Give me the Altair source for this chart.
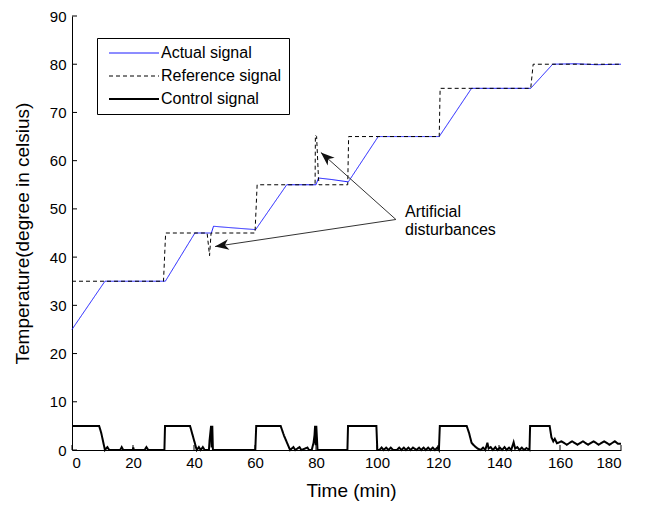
import math
import altair as alt
import pandas as pd

FONT = "Liberation Sans"
W, H = 549, 434

# ---- data ----
series_names = ["Actual signal", "Reference signal", "Control signal"]

act_t = [0, 10.8, 30.6, 40.3, 45.7, 46.4, 50, 60.2, 70.4, 80, 80.8, 85, 90.6, 100.4, 120.4, 131, 150.4, 157.6, 165, 172, 180]
act_v = [25, 35, 35, 45, 45, 46.4, 46.2, 45.7, 55, 55, 56.4, 56.1, 55.6, 65, 65, 75, 75, 80, 80.1, 79.9, 80]

ref_t = [0, 30, 30.7, 44.3, 45.1, 45.6, 60, 60.7, 79.7, 79.8, 80.2, 80.8, 81, 90.4, 90.7, 120.4, 120.7, 150.4, 151.2, 180]
ref_v = [35, 35, 45, 45, 40.3, 45, 45, 55, 55, 65.3, 65, 56.5, 55, 55, 65, 65, 75, 75, 80, 80]

ctl_t = [0, 8.9, 9.6, 10.8, 11.6, 12.2, 15.8, 16.3, 16.8, 19.9, 20.1, 20.3, 23.8, 24.4, 25,
         30.3, 30.5, 38.7, 39.8, 40.9, 41.6, 42.2, 42.9, 43.5, 44.9, 45.1, 45.6, 45.8, 46.0, 46.2,
         60.1, 60.4, 68.4, 69.5, 71.5, 72.6, 73.2, 74.6, 75.2, 77.2, 77.7, 78.6, 79.2, 79.5, 79.7, 79.9, 80.1, 80.5,
         90.3, 90.5, 99.8, 100.1,
         100.8, 101.5, 102.2, 103.0, 103.8, 104.5, 105.3, 106.5, 107.3, 108.0, 108.8, 109.5, 110.3,
         111.0, 111.8, 113.0, 113.8, 114.5, 115.3, 116.0, 116.8, 117.5, 118.3, 119.0, 119.8,
         120.3, 120.6, 129.4, 130.2, 131, 132, 133, 134,
         134.8, 135.5, 136.2, 136.6, 137.3, 138, 138.8, 139.5, 140.3, 141, 141.8, 142.5, 143.3, 144,
         144.8, 145.3, 146, 146.7, 147.5, 148.2, 149, 150,
         150.2, 156.6, 157.2, 157.8, 158.3, 159, 160.5, 162.2, 164, 165.7, 167.5, 169.2, 171, 172.7,
         174.5, 176.2, 178, 179, 180]
ctl_v = [5, 5, 3.5, 0, 0.6, 0, 0, 0.6, 0, 0, 0.5, 0, 0, 0.6, 0,
         0, 5, 5, 2.5, 0, 0.6, 0, 0.6, 0, 0, 2, 5, 0.5, 5, 0,
         0, 5, 5, 3, 0, 0.6, 0, 0.6, 0, 0.5, 0, 0, 1.5, 3, 5, 1, 5, 0,
         0, 5, 5, 0,
         0, 0.5, 0, 0.5, 0, 0.5, 0, 0, 0.5, 0, 0.5, 0, 0.5,
         0, 0.5, 0, 0.5, 0, 0.5, 0, 0.5, 0, 0.5, 0, 0.5,
         0, 5, 5, 3.5, 1.5, 0.8, 0.3, 0,
         0.5, 0, 1.5, 0.3, 0.6, 0, 0.6, 0, 0.5, 0, 0.6, 0, 0.5, 0,
         1.6, 0.3, 0.6, 0, 0.5, 0, 0.4, 0,
         5, 5, 2.6, 1.8, 2.3, 1.4, 1.8, 1.1, 1.8, 1.1, 1.8, 1.1, 1.8, 1.1,
         1.8, 1.1, 1.8, 1.3, 1.3]
series_widths = {"Actual signal": 1, "Reference signal": 1, "Control signal": 2}

x_ticks = [0, 20, 40, 60, 80, 100, 120, 140, 160, 180]
y_ticks = [0, 10, 20, 30, 40, 50, 60, 70, 80, 90]

note_lines = ["Artificial", "disturbances"]
note_t = [109.2, 109.2]
note_v = [49.4, 45.6]

arrow_start = (106.2, 47.8)
arrow_tips_t = [81.6, 46.9]
arrow_tips_v = [61.7, 42.2]

# ---- tables ----
rows = []
for name, ts, vs in [("Actual signal", act_t, act_v),
                     ("Reference signal", ref_t, ref_v),
                     ("Control signal", ctl_t, ctl_v)]:
    for i, (t, v) in enumerate(zip(ts, vs)):
        rows.append({"series": name, "t": t, "v": v, "i": i})
df = pd.DataFrame(rows)


def screen_angle(t0, v0, t1, v1):
    dx = (t1 - t0) * W / 180
    dy = -(v1 - v0) * H / 90
    return math.degrees(math.atan2(dx, -dy)) % 360


arrows = pd.DataFrame({
    "t": [arrow_start[0]] * 2, "v": [arrow_start[1]] * 2,
    "t2": arrow_tips_t, "v2": arrow_tips_v,
})
heads = pd.DataFrame({
    "t": arrow_tips_t, "v": arrow_tips_v,
    "ang": [screen_angle(arrow_start[0], arrow_start[1], t, v) for t, v in zip(arrow_tips_t, arrow_tips_v)],
})
notes = pd.DataFrame({"t": note_t, "v": note_v, "txt": note_lines})
xt = pd.DataFrame({"t": x_ticks})
yt = pd.DataFrame({"v": y_ticks})

xs = alt.Scale(domain=[0, 180], nice=False, zero=False)
ys = alt.Scale(domain=[0, 90], nice=False, zero=False)
xaxis = alt.Axis(values=x_ticks, title="Time (min)", ticks=False, grid=False,
                 labelPadding=5, titleX=279, titleY=40, titleBaseline="middle",
                 titleAnchor="start", titleAlign="center")
yaxis = alt.Axis(values=y_ticks, title="Temperature(degree in celsius)", ticks=False, grid=False,
                 labelPadding=6, titleX=-50, titleY=217, titleAngle=270,
                 titleBaseline="middle", titleAlign="center")
X = alt.X("t:Q", scale=xs, axis=xaxis)
Y = alt.Y("v:Q", scale=ys, axis=yaxis)

leg = alt.Legend(
    title=None, orient="none", legendX=25, legendY=22,
    symbolStrokeWidth=alt.ExprRef(expr="datum.value === 'Control signal' ? 2 : 1"),
)
enc_series = dict(
    color=alt.Color("series:N", scale=alt.Scale(domain=series_names, range=["#1a1aff", "#000000", "#000000"]), legend=leg),
    strokeDash=alt.StrokeDash("series:N", scale=alt.Scale(domain=series_names, range=[[1, 0], [4, 3], [1, 0]]), legend=leg),
)


def series_layer(name):
    return alt.Chart(df).transform_filter(alt.datum.series == name).mark_line(
        strokeWidth=series_widths[name]).encode(x=X, y=Y, order="i:Q", **enc_series)


layers = [
    series_layer("Control signal"),
    series_layer("Actual signal"),
    series_layer("Reference signal"),
    alt.Chart(arrows).mark_rule(color="#333333", strokeWidth=1).encode(x=X, y=Y, x2="t2:Q", y2="v2:Q"),
    alt.Chart(heads).mark_point(shape="M0,0L-0.38,1L0,0.72L0.38,1Z", filled=True, color="#111111",
                                size=760, opacity=1).encode(x=X, y=Y, angle=alt.Angle("ang:Q", scale=None)),
    alt.Chart(notes).mark_text(align="left", baseline="middle", font=FONT, fontSize=16, color="black").encode(
        x=X, y=Y, text="txt:N"),
    alt.Chart(xt).mark_rule(color="black", strokeWidth=1).encode(x=X, y=alt.value(H), y2=alt.value(H - 5)),
    alt.Chart(yt).mark_rule(color="black", strokeWidth=1).encode(y=Y, x=alt.value(0), x2=alt.value(5)),
]

chart = alt.layer(*layers).properties(
    width=W, height=H,
    autosize=alt.AutoSizeParams(type="none"),
    padding={"left": 72, "top": 16, "right": 25, "bottom": 56},
).configure_view(stroke=None).configure_axis(
    domainColor="black", domainWidth=1, labelFont=FONT, labelFontSize=15, labelColor="black",
    titleFont=FONT, titleFontSize=19, titleColor="black", titleFontWeight="normal",
).configure_legend(
    strokeColor="black", fillColor="white", padding=7, labelFont=FONT, labelFontSize=16,
    labelColor="black", symbolType="M-0.6,0H9.4", symbolSize=100, labelOffset=41, cornerRadius=0,
    rowPadding=7,
)

chart.save("out.html", embed_options={"renderer": "svg", "actions": False})
